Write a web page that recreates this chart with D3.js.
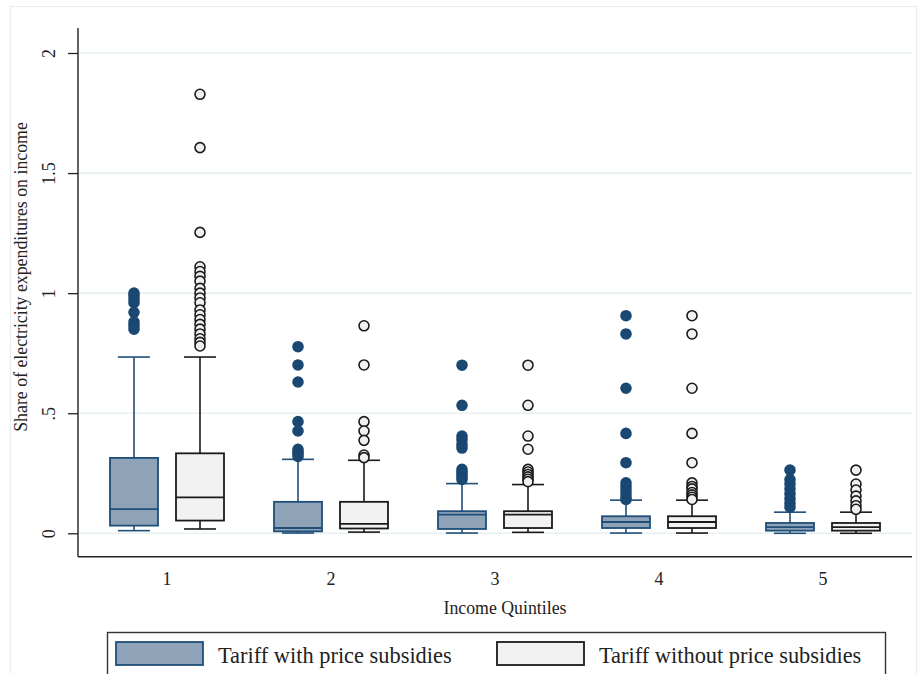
<!DOCTYPE html>
<html>
<head>
<meta charset="utf-8">
<script src="https://cdn.jsdelivr.net/npm/d3@7"></script>
<style>
  html, body { margin: 0; padding: 0; background: #fff; }
  svg { display: block; }
  text { font-family: "Liberation Serif", "DejaVu Serif", serif; fill: #222; }
</style>
</head>
<body>
<svg id="chart" width="922" height="674"></svg>
<script>
// Income quintiles on the category axis
const quintiles = ["1", "2", "3", "4", "5"];
const seriesNames = ["Tariff with price subsidies", "Tariff without price subsidies"];
const yTicks = [0, 0.5, 1, 1.5, 2];
const yTickLabels = ["0", ".5", "1", "1.5", "2"];

// Box statistics per quintile: lower whisker, Q1, median, Q3, upper whisker
const withLow    = [0.011, 0.001, 0.001, 0.001, 0.000];
const withQ1     = [0.032, 0.008, 0.018, 0.022, 0.011];
const withMed    = [0.101, 0.022, 0.078, 0.047, 0.026];
const withQ3     = [0.314, 0.131, 0.092, 0.071, 0.043];
const withHigh   = [0.734, 0.308, 0.207, 0.138, 0.088];

const withoutLow  = [0.018, 0.005, 0.004, 0.001, 0.000];
const withoutQ1   = [0.053, 0.020, 0.022, 0.022, 0.011];
const withoutMed  = [0.150, 0.039, 0.078, 0.047, 0.026];
const withoutQ3   = [0.333, 0.131, 0.092, 0.071, 0.043];
const withoutHigh = [0.734, 0.304, 0.203, 0.138, 0.088];

// Outlying households per quintile
const withOutliers = [
  [1.00, 0.99, 0.975, 0.96, 0.92, 0.88, 0.865, 0.85],
  [0.777, 0.701, 0.630, 0.465, 0.426, 0.350, 0.340, 0.330, 0.320],
  [0.700, 0.533, 0.405, 0.390, 0.370, 0.355, 0.266, 0.255, 0.245, 0.235, 0.224],
  [0.906, 0.830, 0.604, 0.416, 0.294, 0.210, 0.195, 0.180, 0.165, 0.150, 0.141],
  [0.263, 0.224, 0.205, 0.185, 0.165, 0.145, 0.125, 0.109]
];
const withoutOutliers = [
  [1.828, 1.606, 1.253, 1.11, 1.09, 1.07, 1.05, 1.02, 1.00, 0.98, 0.96, 0.93, 0.91, 0.89, 0.87, 0.85, 0.83, 0.81, 0.795, 0.78],
  [0.864, 0.701, 0.465, 0.426, 0.387, 0.326, 0.315],
  [0.700, 0.533, 0.405, 0.350, 0.266, 0.255, 0.245, 0.235, 0.225, 0.215],
  [0.906, 0.830, 0.604, 0.416, 0.294, 0.210, 0.195, 0.185, 0.170, 0.160, 0.150, 0.141],
  [0.263, 0.205, 0.180, 0.155, 0.135, 0.115, 0.100]
];

const series = [
  { name: seriesNames[0], low: withLow, q1: withQ1, med: withMed, q3: withQ3, high: withHigh, out: withOutliers,
    fill: "#8ea3b8", stroke: "#1f4e79", dotFill: "#1a4873", dotStroke: "#1a4873", offset: -33 },
  { name: seriesNames[1], low: withoutLow, q1: withoutQ1, med: withoutMed, q3: withoutQ3, high: withoutHigh, out: withoutOutliers,
    fill: "#f2f2f2", stroke: "#1a1a1a", dotFill: "#f0f0f0", dotStroke: "#1a1a1a", offset: 33 }
];

const serif = '"Liberation Serif", "DejaVu Serif", serif';
const svg = d3.select("#chart");

// Faint outer frame of the graph region
svg.append("rect")
  .attr("x", 10.5).attr("y", 6.5).attr("width", 906).attr("height", 700)
  .attr("fill", "none").attr("stroke", "#e9eef0").attr("stroke-width", 1.2);

const plotLeft = 78, plotRight = 912, plotBottom = 556.7, plotTop = 28;

const x = d3.scaleBand().domain(quintiles).range([85, 905]).paddingInner(0).paddingOuter(0);
const y = d3.scaleLinear().domain([0, 2]).range([533.3, 53]);

// Horizontal gridlines
svg.append("g").selectAll("line").data(yTicks).join("line")
  .attr("x1", plotLeft).attr("x2", plotRight)
  .attr("y1", d => y(d)).attr("y2", d => y(d))
  .attr("stroke", "#e6eff1").attr("stroke-width", 1.6);

// Y axis with rotated tick labels
const yAxis = svg.append("g").attr("transform", `translate(${plotLeft},0)`)
  .call(d3.axisLeft(y).tickValues(yTicks).tickFormat((d, i) => yTickLabels[i]).tickSize(10).tickPadding(0));
yAxis.attr("font-family", serif).attr("font-size", 18);
yAxis.select(".domain").remove();
yAxis.selectAll(".tick line").attr("stroke", "#222").attr("stroke-width", 1.3);
yAxis.selectAll(".tick text")
  .attr("x", 0).attr("y", 0).attr("dy", 0)
  .attr("text-anchor", "middle")
  .attr("transform", "translate(-23,0) rotate(-90)")
  .attr("fill", "#222");
svg.append("line").attr("x1", plotLeft).attr("x2", plotLeft).attr("y1", plotTop).attr("y2", plotBottom)
  .attr("stroke", "#222").attr("stroke-width", 1.4);

// X axis (categorical, no ticks)
svg.append("line").attr("x1", plotLeft).attr("x2", plotRight).attr("y1", plotBottom).attr("y2", plotBottom)
  .attr("stroke", "#222").attr("stroke-width", 1.4);
const xAxis = svg.append("g").attr("transform", `translate(0,${plotBottom})`)
  .call(d3.axisBottom(x).tickSize(0).tickPadding(16));
xAxis.attr("font-family", serif).attr("font-size", 18);
xAxis.select(".domain").remove();
xAxis.selectAll(".tick text").attr("fill", "#222");

// Axis titles
svg.append("text")
  .attr("transform", "translate(27,277) rotate(-90)")
  .attr("text-anchor", "middle").style("font-size", "17.8px")
  .text("Share of electricity expenditures on income");
svg.append("text")
  .attr("x", 505).attr("y", 614)
  .attr("text-anchor", "middle").style("font-size", "17.8px")
  .text("Income Quintiles");

// Box plots
const boxW = 48, capW = 32;
series.forEach(s => {
  const g = svg.append("g");
  const cx = i => x(quintiles[i]) + x.bandwidth() / 2 + s.offset;
  const idx = d3.range(quintiles.length);

  // whiskers
  g.selectAll(".whisk-up").data(idx).join("line")
    .attr("x1", cx).attr("x2", cx)
    .attr("y1", i => y(s.q3[i])).attr("y2", i => y(s.high[i]))
    .attr("stroke", s.stroke).attr("stroke-width", 1.6);
  g.selectAll(".whisk-down").data(idx).join("line")
    .attr("x1", cx).attr("x2", cx)
    .attr("y1", i => y(s.q1[i])).attr("y2", i => y(s.low[i]))
    .attr("stroke", s.stroke).attr("stroke-width", 1.6);
  // caps
  g.selectAll(".cap-up").data(idx).join("line")
    .attr("x1", i => cx(i) - capW / 2).attr("x2", i => cx(i) + capW / 2)
    .attr("y1", i => y(s.high[i])).attr("y2", i => y(s.high[i]))
    .attr("stroke", s.stroke).attr("stroke-width", 1.6);
  g.selectAll(".cap-down").data(idx).join("line")
    .attr("x1", i => cx(i) - capW / 2).attr("x2", i => cx(i) + capW / 2)
    .attr("y1", i => y(s.low[i])).attr("y2", i => y(s.low[i]))
    .attr("stroke", s.stroke).attr("stroke-width", 1.6);
  // boxes
  g.selectAll(".box").data(idx).join("rect")
    .attr("x", i => cx(i) - boxW / 2).attr("width", boxW)
    .attr("y", i => y(s.q3[i])).attr("height", i => y(s.q1[i]) - y(s.q3[i]))
    .attr("fill", s.fill).attr("stroke", s.stroke).attr("stroke-width", 1.8);
  // medians
  g.selectAll(".med").data(idx).join("line")
    .attr("x1", i => cx(i) - boxW / 2).attr("x2", i => cx(i) + boxW / 2)
    .attr("y1", i => y(s.med[i])).attr("y2", i => y(s.med[i]))
    .attr("stroke", s.stroke).attr("stroke-width", 1.8);
  // outliers
  const pts = [];
  s.out.forEach((arr, i) => arr.forEach(v => pts.push({ i, v })));
  g.selectAll(".pt").data(pts).join("circle")
    .attr("cx", d => cx(d.i)).attr("cy", d => y(d.v))
    .attr("r", 5)
    .attr("fill", s.dotFill).attr("stroke", s.dotStroke).attr("stroke-width", 1.6);
});

// Legend
const leg = svg.append("g");
leg.append("rect").attr("x", 107.5).attr("y", 632.5).attr("width", 778).attr("height", 60)
  .attr("fill", "#fff").attr("stroke", "#333").attr("stroke-width", 1.4);
const legX = [116, 497];
series.forEach((s, k) => {
  leg.append("rect").attr("x", legX[k]).attr("y", 642).attr("width", 87).attr("height", 23)
    .attr("fill", s.fill).attr("stroke", s.stroke).attr("stroke-width", 1.8);
  leg.append("text").attr("x", legX[k] + 102).attr("y", 663)
    .style("font-size", "22.4px").text(s.name);
});
</script>
</body>
</html>
